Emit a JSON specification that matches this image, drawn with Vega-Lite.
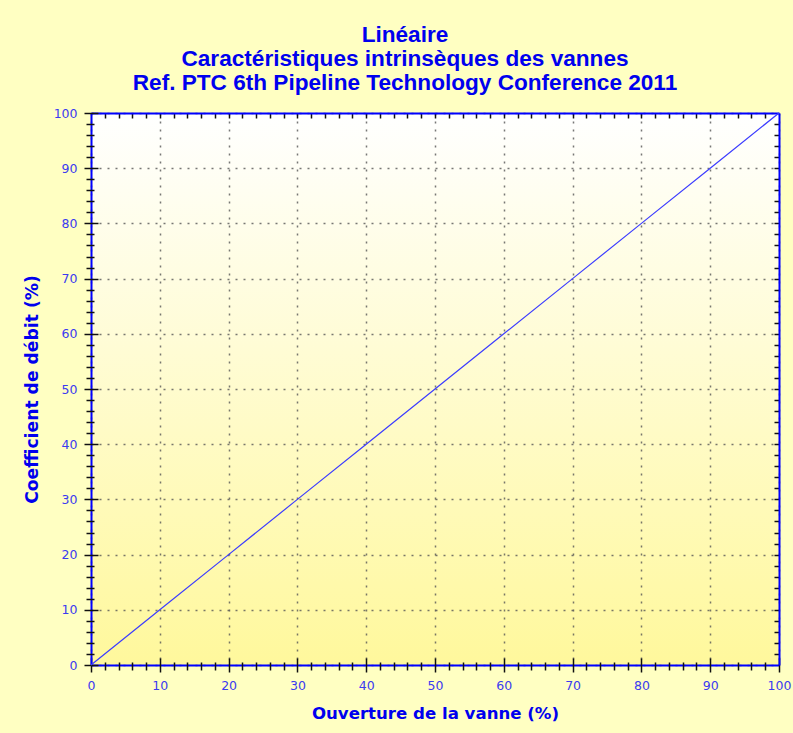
{
  "$schema": "https://vega.github.io/schema/vega-lite/v6.json",
  "autosize": "none",
  "width": 688,
  "height": 552,
  "padding": {"left": 91, "top": 113, "right": 14, "bottom": 68},
  "background": "#FFFFC2",
  "config": {
    "view": {
      "stroke": null,
      "fill": {"gradient": "linear", "x1": 0, "y1": 0, "x2": 0, "y2": 1,
        "stops": [{"offset": 0, "color": "#FFFFFF"}, {"offset": 1, "color": "#FFF89C"}]}
    },
    "axis": {"zindex": 1}
  },
  "title": {
    "text": ["Linéaire", "Caractéristiques intrinsèques des vannes", "Ref. PTC 6th Pipeline Technology Conference 2011"],
    "font": "Liberation Sans",
    "fontSize": 22.6,
    "fontWeight": "bold",
    "color": "#0000EE",
    "lineHeight": 24,
    "anchor": "middle",
    "dx": -30,
    "offset": 12
  },
  "data": {"values": [
    {"ouverture": 0, "debit": 0},
    {"ouverture": 10, "debit": 10},
    {"ouverture": 20, "debit": 20},
    {"ouverture": 30, "debit": 30},
    {"ouverture": 40, "debit": 40},
    {"ouverture": 50, "debit": 50},
    {"ouverture": 60, "debit": 60},
    {"ouverture": 70, "debit": 70},
    {"ouverture": 80, "debit": 80},
    {"ouverture": 90, "debit": 90},
    {"ouverture": 100, "debit": 100}
  ]},
  "resolve": {"axis": {"x": "independent", "y": "independent"}},
  "layer": [
    {
      "mark": {"type": "line", "color": "#3C3CFF", "strokeWidth": 1.2},
      "encoding": {
        "x": {"field": "ouverture", "type": "quantitative",
          "scale": {"domain": [0, 100], "nice": false, "zero": false},
          "axis": {"orient": "bottom", "title": "Ouverture de la vanne (%)",
            "values": [0, 10, 20, 30, 40, 50, 60, 70, 80, 90, 100],
            "domainColor": "#0000FF", "domainWidth": 2, "ticks": false, "labelFlush": false,
            "labelFont": "DejaVu Sans", "labelFontSize": 12.5, "labelColor": "#3B3BF0", "labelPadding": 14,
            "titleFont": "DejaVu Sans", "titleFontSize": 16.6, "titleFontWeight": "bold", "titleColor": "#0000EE", "titlePadding": 14,
            "grid": true, "gridColor": "#555555", "gridDash": [2, 6], "gridWidth": 1.5, "gridOpacity": 0.8}},
        "y": {"field": "debit", "type": "quantitative",
          "scale": {"domain": [0, 100], "nice": false, "zero": false},
          "axis": {"orient": "left", "title": "Coefficient de débit (%)",
            "values": [0, 10, 20, 30, 40, 50, 60, 70, 80, 90, 100],
            "domainColor": "#0000FF", "domainWidth": 2, "ticks": false, "labelFlush": false,
            "labelFont": "DejaVu Sans", "labelFontSize": 12.5, "labelColor": "#3B3BF0", "labelPadding": 14,
            "titleFont": "DejaVu Sans", "titleFontSize": 17.2, "titleFontWeight": "bold", "titleColor": "#0000EE", "titlePadding": 12,
            "grid": true, "gridColor": "#555555", "gridDash": [2, 6], "gridWidth": 1.5, "gridOpacity": 0.8}}
      }
    },
    {
      "mark": {"type": "line", "opacity": 0},
      "encoding": {
        "x": {"field": "ouverture", "type": "quantitative",
          "axis": {"orient": "bottom", "title": null, "domain": false, "labels": false, "grid": false,
            "values": [0, 10, 20, 30, 40, 50, 60, 70, 80, 90, 100],
            "tickSize": 14, "offset": -7, "tickColor": "#111111", "tickWidth": 1.5}},
        "y": {"field": "debit", "type": "quantitative",
          "axis": {"orient": "left", "title": null, "domain": false, "labels": false, "grid": false,
            "values": [0, 10, 20, 30, 40, 50, 60, 70, 80, 90, 100],
            "tickSize": 14, "offset": -7, "tickColor": "#111111", "tickWidth": 1.5}}
      }
    },
    {
      "mark": {"type": "line", "opacity": 0},
      "encoding": {
        "x": {"field": "ouverture", "type": "quantitative",
          "axis": {"orient": "bottom", "title": null, "domain": false, "labels": false, "grid": false,
            "values": [2, 4, 6, 8, 12, 14, 16, 18, 22, 24, 26, 28, 32, 34, 36, 38, 42, 44, 46, 48, 52, 54, 56, 58, 62, 64, 66, 68, 72, 74, 76, 78, 82, 84, 86, 88, 92, 94, 96, 98],
            "tickSize": 8, "offset": -3, "tickColor": "#111111", "tickWidth": 1.5}},
        "y": {"field": "debit", "type": "quantitative",
          "axis": {"orient": "left", "title": null, "domain": false, "labels": false, "grid": false,
            "values": [2, 4, 6, 8, 12, 14, 16, 18, 22, 24, 26, 28, 32, 34, 36, 38, 42, 44, 46, 48, 52, 54, 56, 58, 62, 64, 66, 68, 72, 74, 76, 78, 82, 84, 86, 88, 92, 94, 96, 98],
            "tickSize": 8, "offset": -3, "tickColor": "#111111", "tickWidth": 1.5}}
      }
    },
    {
      "mark": {"type": "line", "opacity": 0},
      "encoding": {
        "x": {"field": "ouverture", "type": "quantitative",
          "axis": {"orient": "top", "title": null, "labels": false, "grid": false,
            "domainColor": "#0000FF", "domainWidth": 2,
            "values": [2, 4, 6, 8, 10, 12, 14, 16, 18, 20, 22, 24, 26, 28, 30, 32, 34, 36, 38, 40, 42, 44, 46, 48, 50, 52, 54, 56, 58, 60, 62, 64, 66, 68, 70, 72, 74, 76, 78, 80, 82, 84, 86, 88, 90, 92, 94, 96, 98],
            "tickSize": -5, "tickColor": "#111111", "tickWidth": 1.5}},
        "y": {"field": "debit", "type": "quantitative",
          "axis": {"orient": "right", "title": null, "labels": false, "grid": false,
            "domainColor": "#0000FF", "domainWidth": 2,
            "values": [2, 4, 6, 8, 10, 12, 14, 16, 18, 20, 22, 24, 26, 28, 30, 32, 34, 36, 38, 40, 42, 44, 46, 48, 50, 52, 54, 56, 58, 60, 62, 64, 66, 68, 70, 72, 74, 76, 78, 80, 82, 84, 86, 88, 90, 92, 94, 96, 98],
            "tickSize": -5, "tickColor": "#111111", "tickWidth": 1.5}}
      }
    }
  ]
}
